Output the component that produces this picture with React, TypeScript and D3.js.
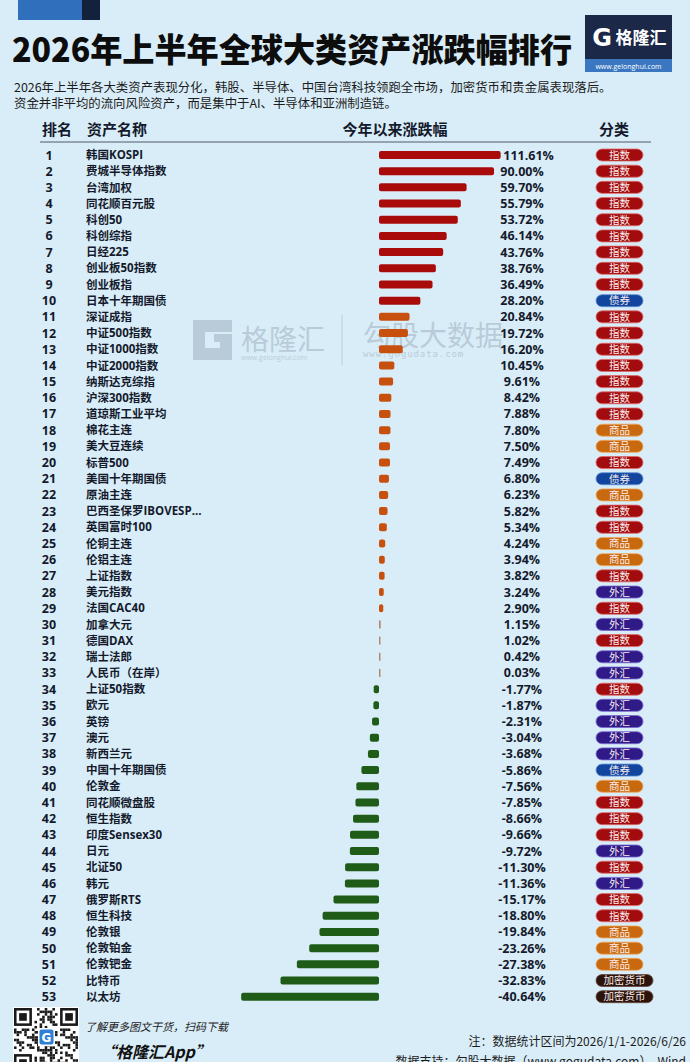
import React from 'react';
import * as d3 from 'd3';

const names = [
  '韩国KOSPI', '费城半导体指数', '台湾加权', '同花顺百元股', '科创50', '科创综指', '日经225', '创业板50指数', '创业板指', '日本十年期国债',
  '深证成指', '中证500指数', '中证1000指数', '中证2000指数', '纳斯达克综指', '沪深300指数', '道琼斯工业平均', '棉花主连', '美大豆连续', '标普500',
  '美国十年期国债', '原油主连', '巴西圣保罗IBOVESP...', '英国富时100', '伦铜主连', '伦铝主连', '上证指数', '美元指数', '法国CAC40', '加拿大元',
  '德国DAX', '瑞士法郎', '人民币（在岸）', '上证50指数', '欧元', '英镑', '澳元', '新西兰元', '中国十年期国债', '伦敦金',
  '同花顺微盘股', '恒生指数', '印度Sensex30', '日元', '北证50', '韩元', '俄罗斯RTS', '恒生科技', '伦敦银', '伦敦铂金',
  '伦敦钯金', '比特币', '以太坊',
];

const values = [
  111.61, 90.0, 59.7, 55.79, 53.72, 46.14, 43.76, 38.76, 36.49, 28.2,
  20.84, 19.72, 16.2, 10.45, 9.61, 8.42, 7.88, 7.8, 7.5, 7.49,
  6.8, 6.23, 5.82, 5.34, 4.24, 3.94, 3.82, 3.24, 2.9, 1.15,
  1.02, 0.42, 0.03, -1.77, -1.87, -2.31, -3.04, -3.68, -5.86, -7.56,
  -7.85, -8.66, -9.66, -9.72, -11.3, -11.36, -15.17, -18.8, -19.84, -23.26,
  -27.38, -32.83, -40.64,
];

const categories = [
  '指数', '指数', '指数', '指数', '指数', '指数', '指数', '指数', '指数', '债券',
  '指数', '指数', '指数', '指数', '指数', '指数', '指数', '商品', '商品', '指数',
  '债券', '商品', '指数', '指数', '商品', '商品', '指数', '外汇', '指数', '外汇',
  '指数', '外汇', '外汇', '指数', '外汇', '外汇', '外汇', '外汇', '债券', '商品',
  '指数', '指数', '指数', '外汇', '指数', '外汇', '指数', '指数', '商品', '商品',
  '商品', '加密货币', '加密货币',
];

const categoryNames = ['指数', '债券', '商品', '外汇', '加密货币'];
const categoryFills = ['#a20c0e', '#11459e', '#c9690f', '#2f1a88', '#2c140d'];
const categoryStrokes = ['#e26a6a', '#5f8fd6', '#f0a860', '#7a6ad0', '#6a4a3e'];

const headerLabels = ['排名', '资产名称', '今年以来涨跌幅', '分类'];

const W = 690;
const H = 1062;
const CJK = "'Noto Sans CJK SC', 'Noto Sans', sans-serif";
const MIX = "'Open Sans', 'Noto Sans CJK SC', sans-serif";
const INK = '#141a2c';

const locale = d3.formatLocale({ decimal: '.', thousands: ',', grouping: [3], currency: ['', ''], minus: '-' });

export default function App() {
  const ranks = names.map((_, i) => i + 1);
  const x = d3.scaleLinear().domain([-45, -33, 0, 60, 90, 115]).range([219, 280, 379, 467, 494, 501.7]);
  const y = d3.scalePoint<number>().domain(ranks).range([155, 996.7]);
  const barColor = d3.scaleThreshold<number, string>().domain([0, 25]).range(['#1f5c17', '#c8500f', '#a90b0b']);
  const catFill = d3.scaleOrdinal<string, string>().domain(categoryNames).range(categoryFills);
  const catStroke = d3.scaleOrdinal<string, string>().domain(categoryNames).range(categoryStrokes);
  const fmt = locale.format('.2f');
  const x0 = x(0);
  const barH = 8;

  // QR decoration modules (deterministic pattern)
  const qrN = 25;
  const qrS = 2.56;
  const qrX = 14;
  const qrY = 1008;
  const qrCells: { i: number; j: number }[] = [];
  const inFinder = (i: number, j: number) =>
    (i < 8 && j < 8) || (i < 8 && j >= qrN - 8) || (i >= qrN - 8 && j < 8);
  for (let i = 0; i < qrN; i++) {
    for (let j = 0; j < qrN; j++) {
      if (inFinder(i, j)) continue;
      if ((i * 7 + j * 11 + ((i * j) % 5)) % 3 === 0 || (i + j * 3) % 7 === 1) qrCells.push({ i, j });
    }
  }
  const finders = [
    [0, 0],
    [0, qrN - 7],
    [qrN - 7, 0],
  ];

  return (
    <svg
      width={W}
      height={H}
      viewBox={`0 0 ${W} ${H}`}
      style={{ position: 'absolute', left: 0, top: 0, display: 'block' }}
    >
      <rect x={0} y={0} width={W} height={H} fill="#d9edf8" />
      {/* top-left decoration */}
      <rect x={18} y={0} width={64} height={20} fill="#2f6fbb" />
      <rect x={82} y={0} width={18} height={20} fill="#14213d" />

      {/* title */}
      <text
        x={12}
        y={62}
        fontFamily={CJK}
        fontWeight={900}
        fontSize={33}
        fill="#0d0d0d"
        textLength={560}
        lengthAdjust="spacingAndGlyphs"
      >
        2026年上半年全球大类资产涨跌幅排行
      </text>

      {/* logo */}
      <rect x={585} y={15} width={87} height={57} fill="#1b2847" />
      <rect x={585} y={59} width={87} height={13} fill="#3a77c0" />
      <text x={602} y={46} textAnchor="middle" fontFamily="'DejaVu Sans', sans-serif" fontWeight={700} fontSize={24} fill="#ffffff">
        G
      </text>
      <text x={641} y={44} textAnchor="middle" fontFamily={CJK} fontWeight={700} fontSize={17} fill="#ffffff">
        格隆汇
      </text>
      <text x={628.5} y={68.5} textAnchor="middle" fontFamily="'Open Sans', sans-serif" fontSize={7} fill="#ffffff">
        www.gelonghui.com
      </text>

      {/* subtitle */}
      <text x={14} y={92} fontFamily={CJK} fontSize={12.4} fill="#1c1c1c">
        2026年上半年各大类资产表现分化，韩股、半导体、中国台湾科技领跑全市场，加密货币和贵金属表现落后。
      </text>
      <text x={14} y={108} fontFamily={CJK} fontSize={12.4} fill="#1c1c1c">
        资金并非平均的流向风险资产，而是集中于AI、半导体和亚洲制造链。
      </text>

      {/* header */}
      <g fontFamily={CJK} fontWeight={700} fontSize={15} fill={INK}>
        <text x={57} y={135} textAnchor="middle">{headerLabels[0]}</text>
        <text x={87} y={135}>{headerLabels[1]}</text>
        <text x={395} y={135} textAnchor="middle">{headerLabels[2]}</text>
        <text x={614} y={135} textAnchor="middle">{headerLabels[3]}</text>
      </g>
      <line x1={40} x2={651} y1={142} y2={142} stroke="#7d8a97" strokeWidth={1.5} />

      {/* watermark */}
      <g opacity={0.55}>
        <path
          d="M193,320 h39 v12 h-27 v16 h15 v-6 h-6 v-8 h18 v26 h-39 z"
          fill="#9fb1bf"
        />
        <text x={241} y={350} fontFamily={CJK} fontSize={28} fill="#9fb1bf">格隆汇</text>
        <text x={241} y={360} fontFamily="'Open Sans', sans-serif" fontSize={7} fill="#9fb1bf">www.gelonghui.com</text>
        <line x1={342} x2={342} y1={315} y2={365} stroke="#9fb1bf" strokeWidth={1} />
        <text x={363} y={346} fontFamily={CJK} fontSize={28} fill="#9fb1bf">勾股大数据</text>
        <text x={363} y={357} fontFamily="'DejaVu Sans Mono', monospace" fontSize={9} letterSpacing={0.9} fill="#9fb1bf">
          www.gogudata.com
        </text>
      </g>

      {/* rows */}
      {ranks.map((r, i) => {
        const v = values[i];
        const cy = y(r) as number;
        const xv = x(v);
        const bx = v >= 0 ? x0 : xv;
        const bw = Math.max(Math.abs(xv - x0), 1.5);
        const barEnd = v >= 0 ? x0 + bw : x0;
        const label = `${fmt(v)}%`;
        const est = label.length * 7.4;
        const lx = Math.max(522, barEnd + 2 + est / 2);
        const cat = categories[i];
        const pw = cat.length > 2 ? 57 : 47;
        const thin = bw < 2;
        return (
          <g key={r}>
            <text x={49} y={cy} dy="0.36em" textAnchor="middle" fontFamily={MIX} fontWeight={700} fontSize={12.5} fill={INK}>
              {r}
            </text>
            <text x={86} y={cy} dy="0.36em" fontFamily={MIX} fontWeight={700} fontSize={11.5} fill={INK}>
              {names[i]}
            </text>
            <rect
              x={bx}
              y={cy - barH / 2}
              width={bw}
              height={barH}
              rx={thin ? 0 : 2}
              fill={thin ? '#b7876a' : barColor(v)}
            />
            <text x={lx} y={cy} dy="0.36em" textAnchor="middle" fontFamily="'Open Sans', sans-serif" fontWeight={700} fontSize={12.5} fill={INK}>
              {label}
            </text>
            <rect
              x={596}
              y={cy - 6}
              width={pw}
              height={12}
              rx={6}
              fill={catFill(cat)}
              stroke={catStroke(cat)}
              strokeWidth={0.8}
            />
            <text x={596 + pw / 2} y={cy} dy="0.36em" textAnchor="middle" fontFamily={CJK} fontSize={10.5} fill="#fbecec">
              {cat}
            </text>
          </g>
        );
      })}

      {/* footer: QR */}
      <rect x={qrX - 1} y={qrY - 1} width={qrN * qrS + 2} height={qrN * qrS + 2} fill="#ffffff" />
      {qrCells.map((c) => (
        <rect key={`${c.i}-${c.j}`} x={qrX + c.j * qrS} y={qrY + c.i * qrS} width={qrS} height={qrS} fill="#1a1a1a" />
      ))}
      {finders.map(([fi, fj]) => (
        <g key={`f${fi}-${fj}`}>
          <rect x={qrX + fj * qrS} y={qrY + fi * qrS} width={7 * qrS} height={7 * qrS} fill="#1a1a1a" />
          <rect x={qrX + (fj + 1) * qrS} y={qrY + (fi + 1) * qrS} width={5 * qrS} height={5 * qrS} fill="#ffffff" />
          <rect x={qrX + (fj + 2) * qrS} y={qrY + (fi + 2) * qrS} width={3 * qrS} height={3 * qrS} fill="#1a1a1a" />
        </g>
      ))}
      <rect x={38} y={1028} width={17} height={18} fill="#ffffff" />
      <rect x={39.5} y={1029.5} width={14} height={15} rx={2} fill="#2f7fd6" />
      <text x={46.5} y={1041.5} textAnchor="middle" fontFamily="'DejaVu Sans', sans-serif" fontWeight={700} fontSize={12} fill="#ffffff">
        G
      </text>

      <text x={85} y={1031} fontFamily={CJK} fontStyle="italic" fontSize={11} fill="#222222">
        了解更多图文干货，扫码下载
      </text>
      <text x={100} y={1058} fontFamily={CJK} fontStyle="italic" fontWeight={700} fontSize={16} fill="#111111">
        “格隆汇App”
      </text>
      <text x={686} y={1046} textAnchor="end" fontFamily={CJK} fontSize={12} fill="#1c1c1c">
        注：数据统计区间为2026/1/1-2026/6/26
      </text>
      <text x={686} y={1066} textAnchor="end" fontFamily={CJK} fontSize={12} fill="#1c1c1c">
        数据支持：勾股大数据（www.gogudata.com）、Wind
      </text>
    </svg>
  );
}
